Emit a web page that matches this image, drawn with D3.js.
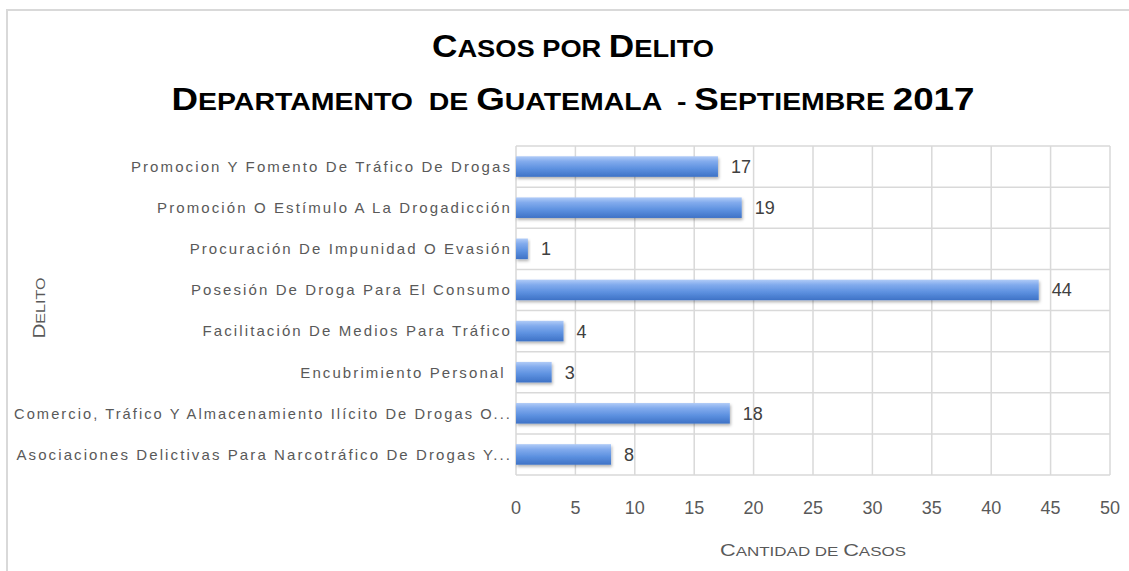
<!DOCTYPE html>
<html><head><meta charset="utf-8">
<script src="https://cdn.jsdelivr.net/npm/d3@7"></script>
<style>
html,body{margin:0;padding:0;background:#fff;}
svg{display:block;}
</style></head>
<body>
<svg id="chart" width="1129" height="571"></svg>
<script>
// ---- data ----
const categories = [
  "Promocion Y Fomento De Tráfico De Drogas",
  "Promoción O Estímulo A La Drogadicción",
  "Procuración De Impunidad O Evasión",
  "Posesión De Droga Para El Consumo",
  "Facilitación De Medios Para Tráfico",
  "Encubrimiento Personal ",
  "Comercio, Tráfico Y Almacenamiento Ilícito De Drogas O...",
  "Asociaciones Delictivas Para Narcotráfico De Drogas Y..."
];
const casos = [17, 19, 1, 44, 4, 3, 18, 8];
const xTicks = [0, 5, 10, 15, 20, 25, 30, 35, 40, 45, 50];
const titleLine1 = [["C", "big"], ["ASOS POR ", "small"], ["D", "big"], ["ELITO", "small"]];
const titleLine2 = [["D", "big"], ["EPARTAMENTO  DE ", "small"], ["G", "big"], ["UATEMALA  - ", "small"], ["S", "big"], ["EPTIEMBRE ", "small"], ["2017", "big"]];
const xTitle = [["C", "big"], ["ANTIDAD DE ", "small"], ["C", "big"], ["ASOS", "small"]];
const yTitle = [["D", "big"], ["ELITO", "small"]];

// ---- layout ----
const svg = d3.select("#chart");
const plot = {left: 516, right: 1110, top: 146, bottom: 475};
const x = d3.scaleLinear().domain([0, 50]).range([plot.left, plot.right]);
const y = d3.scaleBand().domain(categories).range([plot.top, plot.bottom]).paddingInner(0.5).paddingOuter(0.25);
const yRow = d3.scaleBand().domain(categories).range([plot.top, plot.bottom]);

// outer chart border
svg.append("rect").attr("x", 7).attr("y", 10).attr("width", 1140).attr("height", 580)
  .attr("fill", "#fff").attr("stroke", "#d9d9d9").attr("stroke-width", 2);

const defs = svg.append("defs");
const grad = defs.append("linearGradient").attr("id", "barGrad").attr("x1", 0).attr("y1", 0).attr("x2", 0).attr("y2", 1);
grad.append("stop").attr("offset", "0%").attr("stop-color", "#b0cbf7");
grad.append("stop").attr("offset", "25%").attr("stop-color", "#82abed");
grad.append("stop").attr("offset", "60%").attr("stop-color", "#5d91e0");
grad.append("stop").attr("offset", "100%").attr("stop-color", "#3e72c6");
const f = defs.append("filter").attr("id", "shadow").attr("x", "-10%").attr("y", "-30%").attr("width", "130%").attr("height", "180%");
f.append("feDropShadow").attr("dx", 1).attr("dy", 2).attr("stdDeviation", 1.5).attr("flood-color", "#000").attr("flood-opacity", 0.3);

// gridlines
const grid = svg.append("g");
grid.selectAll("line.v").data(xTicks).join("line")
  .attr("x1", d => x(d)).attr("x2", d => x(d))
  .attr("y1", plot.top).attr("y2", plot.bottom)
  .attr("stroke", "#d9d9d9").attr("stroke-width", 1.5);
const hb = categories.map(c => yRow(c)).concat([plot.bottom]);
grid.selectAll("line.h").data(hb).join("line")
  .attr("x1", plot.left).attr("x2", plot.right)
  .attr("y1", d => d).attr("y2", d => d)
  .attr("stroke", "#d9d9d9").attr("stroke-width", 1.5);

// bars
const bars = svg.append("g");
bars.selectAll("rect").data(casos).join("rect")
  .attr("x", x(0))
  .attr("y", (d, i) => y(categories[i]))
  .attr("width", d => x(d) - x(0))
  .attr("height", y.bandwidth())
  .attr("fill", "url(#barGrad)")
  .attr("filter", "url(#shadow)");

// data labels
svg.append("g").selectAll("text").data(casos).join("text")
  .attr("x", d => x(d) + 13)
  .attr("y", (d, i) => y(categories[i]) + y.bandwidth() / 2)
  .attr("dy", "0.36em")
  .attr("font-family", "Liberation Sans, Arial, sans-serif")
  .attr("font-size", 18)
  .attr("fill", "#404040")
  .text(d => d);

// category labels
const catLabels = svg.append("g").selectAll("text").data(categories).join("text")
  .attr("x", 512)
  .attr("y", d => yRow(d) + yRow.bandwidth() / 2)
  .attr("dy", "0.36em")
  .attr("text-anchor", "end")
  .attr("font-family", "Liberation Sans, Arial, sans-serif")
  .attr("font-size", 15)
  .attr("letter-spacing", "2.1px")
  .style("white-space", "pre")
  .attr("fill", "#595959")
  .text(d => d);
const maxLabelW = 498;
catLabels.each(function() {
  const w = this.getComputedTextLength();
  if (w > maxLabelW) d3.select(this).attr("textLength", maxLabelW).attr("lengthAdjust", "spacingAndGlyphs");
});

// x tick labels
svg.append("g").selectAll("text").data(xTicks).join("text")
  .attr("x", d => x(d))
  .attr("y", 514)
  .attr("text-anchor", "middle")
  .attr("font-family", "Liberation Sans, Arial, sans-serif")
  .attr("font-size", 18)
  .attr("fill", "#595959")
  .text(d => d);

function smallCaps(sel, parts, bigSize, smallSize) {
  sel.selectAll("tspan").data(parts).join("tspan")
    .attr("font-size", d => d[1] === "big" ? bigSize : smallSize)
    .style("white-space", "pre")
    .text(d => d[0]);
}

// titles
const t1 = svg.append("text").attr("x", 573).attr("y", 57).attr("text-anchor", "middle")
  .attr("font-family", "Liberation Sans, Arial, sans-serif").attr("font-weight", "bold").attr("fill", "#000")
  .style("white-space", "pre");
smallCaps(t1, titleLine1, 31, 24);
t1.attr("textLength", 282).attr("lengthAdjust", "spacingAndGlyphs");

const t2 = svg.append("text").attr("x", 573).attr("y", 110).attr("text-anchor", "middle")
  .attr("font-family", "Liberation Sans, Arial, sans-serif").attr("font-weight", "bold").attr("fill", "#000")
  .style("white-space", "pre");
smallCaps(t2, titleLine2, 31, 24);
t2.attr("textLength", 803).attr("lengthAdjust", "spacingAndGlyphs");

// axis titles
const xt = svg.append("text").attr("x", 813).attr("y", 556).attr("text-anchor", "middle")
  .attr("font-family", "Liberation Sans, Arial, sans-serif").attr("fill", "#595959").style("white-space", "pre");
smallCaps(xt, xTitle, 16, 12.5);
xt.attr("textLength", 186).attr("lengthAdjust", "spacingAndGlyphs");

const yt = svg.append("text").attr("transform", "translate(45,308) rotate(-90)").attr("text-anchor", "middle")
  .attr("font-family", "Liberation Sans, Arial, sans-serif").attr("fill", "#595959").style("white-space", "pre");
smallCaps(yt, yTitle, 16, 12.5);
yt.attr("textLength", 61).attr("lengthAdjust", "spacingAndGlyphs");
</script>
</body></html>
